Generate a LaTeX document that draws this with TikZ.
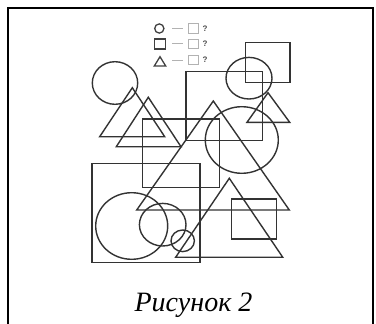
\documentclass[tikz,border=0pt]{standalone}
\usepackage{fontspec}
\setmainfont{Liberation Serif}
\newfontfamily\legendfont{Liberation Sans}

\tikzset{
  figline/.style={draw=black!80, line width=1.4pt},
  legline/.style={draw=black!75, line width=1.3pt},
  ghost/.style={draw=black!30, line width=1pt},
}

\begin{document}
\begin{tikzpicture}[x=1pt,y=-1pt]
    \useasboundingbox (0,0) rectangle (376,324);
    \draw[line width=2pt] (7.5,324) -- (7.5,7.5) -- (373,7.5) -- (373,324);
    % legend
    \draw[legline] (159.3,28.5) circle (4.6pt);
    \draw[legline] (154.3,39) rectangle (165.7,49);
    \draw[legline] (160,56.7) -- (165.7,66) -- (154.3,66) -- cycle;
    \foreach \y [count=\i] in {28.5,43.8,60} {
      \draw[ghost] (172.3,\y) -- (182.7,\y);
      \draw[ghost] (188.7,\y-4.6) rectangle (198.7,\y+4.6);
      \node[font=\legendfont\bfseries\fontsize{8}{8}\selectfont, text=black!70] (ask\i) at (205,\y) {?};
    }
    % upper shapes
    \draw[figline] (115,83) circle[x radius=22.7pt, y radius=21.3pt];
    \draw[figline] (132.3,87.7) -- (164.7,136.7) -- (99.7,136.7) -- cycle;
    \draw[figline] (148.3,97.3) -- (181,146.7) -- (116.3,146.7) -- cycle;
    \draw[figline] (142.7,119) rectangle (219.3,187.7);
    \draw[figline] (186,71.7) rectangle (262.7,140.7);
    \draw[figline] (245.3,42.7) rectangle (290,82.7);
    \draw[figline] (249,78.2) circle[x radius=23pt, y radius=20.8pt];
    \draw[figline] (268,92.7) -- (289.7,122.3) -- (247,122.3) -- cycle;
    \draw[figline] (213.3,101) -- (289.3,210) -- (136.7,210) -- cycle;
    \draw[figline] (241.8,140) circle[x radius=36.5pt, y radius=33.3pt];
    % lower shapes
    \draw[figline] (92,163.3) rectangle (200,262.7);
    \draw[figline] (131.7,226) circle[x radius=36pt, y radius=33.3pt];
    \draw[figline] (162.7,224.7) circle[x radius=23.3pt, y radius=21.3pt];
    \draw[figline] (182.7,240.8) circle[x radius=11.7pt, y radius=10.8pt];
    \draw[figline] (229.3,178.3) -- (282.7,257.2) -- (175.7,257.2) -- cycle;
    \draw[figline] (231.7,199) rectangle (276.7,239);
    % caption
    \node[anchor=base, font=\itshape\fontsize{28}{28}\selectfont] (caption) at (193.5,311.7) {Рисунок 2};
\end{tikzpicture}
\end{document}
